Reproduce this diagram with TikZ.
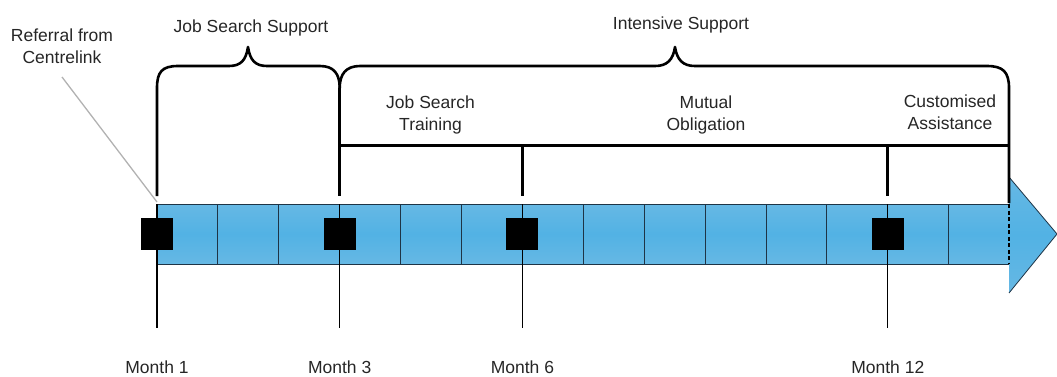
\documentclass[tikz,border=0pt]{standalone}
\usepackage{fontspec}
\setmainfont{Liberation Sans}
\definecolor{barblue}{HTML}{52B2E4}
\definecolor{barlight}{HTML}{66B8E4}
\definecolor{barline}{HTML}{1E3446}
\tikzset{
  lbl/.style={font=\fontsize{17.5}{22}\selectfont, inner sep=0pt, align=center, text=black!85},
  heavy/.style={line width=3pt},
  bracepath/.style={line width=2.6pt, line join=round},
  celldiv/.style={draw=barline, line width=0.9pt},
  tickline/.style={draw=black, line width=1.1pt},
  msq/.style={fill=black, minimum size=32pt, inner sep=0pt, draw=none},
  reflink/.style={draw=black!30, line width=1.3pt},
  barshade/.style={top color=barlight, bottom color=barlight, middle color=barblue}
}
\begin{document}
\begin{tikzpicture}[x=1pt,y=-1pt]
\useasboundingbox (0,0) rectangle (1057,376);

% bar and arrow head
\shade[barshade] (157,204) rectangle (1009,264);
\shade[barshade] (1009,177) -- (1057,234) -- (1009,293) -- cycle;
\draw[barline, line width=0.8pt] (1009,177) -- (1057,234) -- (1009,293);
\draw[celldiv] (1009,204) -- (157,204) -- (157,264) -- (1009,264);
\foreach \i in {1,2,4,5,7,8,9,10,11,13} \draw[celldiv] (157+\i*60.9,204) -- ++(0,60);
\draw[black, line width=2pt, dash pattern=on 4pt off 2.5pt] (1009,204) -- (1009,264);

% months
\foreach \n/\k in {1/0,3/3,6/6,12/12}{
  \coordinate (m\n) at (157+\k*60.9,234);
  \draw[tickline] (157+\k*60.9,204) -- (157+\k*60.9,328);
  \node[msq] (sq\n) at (m\n) {};
  \node[lbl, anchor=base] (lab\n) at (157+\k*60.9,373) {Month \n};
}

% heavy structure above
\draw[heavy] (339.7,145) -- (1009,145);
\draw[heavy] (339.7,88) -- (339.7,196);
\draw[heavy] (522.4,145) -- (522.4,196);
\draw[heavy] (887.8,145) -- (887.8,196);

% braces
\draw[bracepath] (157,196) -- (157,88) .. controls (157,72) and (162,66) .. (178,66)
  -- (229,66) .. controls (241,66) and (246,60) .. (248,47)
  .. controls (250,60) and (255,66) .. (267,66) -- (320,66)
  .. controls (334,66) and (339.7,74) .. (339.7,88);
\draw[bracepath] (339.7,88) .. controls (339.7,74) and (346,66) .. (360,66)
  -- (655,66) .. controls (667,66) and (673,60) .. (675,47)
  .. controls (677,60) and (683,66) .. (695,66) -- (987,66)
  .. controls (1003,66) and (1009,72) .. (1009,88) -- (1009,203);

% labels
\node[lbl] (ref) at (62,46) {Referral from\\Centrelink};
\coordinate (refend) at (62,77);
\draw[reflink] (refend) -- (157,202);
\node[lbl, anchor=base] (jss) at (251,32) {Job Search Support};
\node[lbl, anchor=base] (ints) at (681,29) {Intensive Support};
\node[lbl] (jst) at (430.5,114.5) {Job Search\\Training};
\node[lbl] (mo) at (706,114.5) {Mutual\\Obligation};
\node[lbl] (ca) at (950,112.7) {Customised\\Assistance};
\end{tikzpicture}
\end{document}
